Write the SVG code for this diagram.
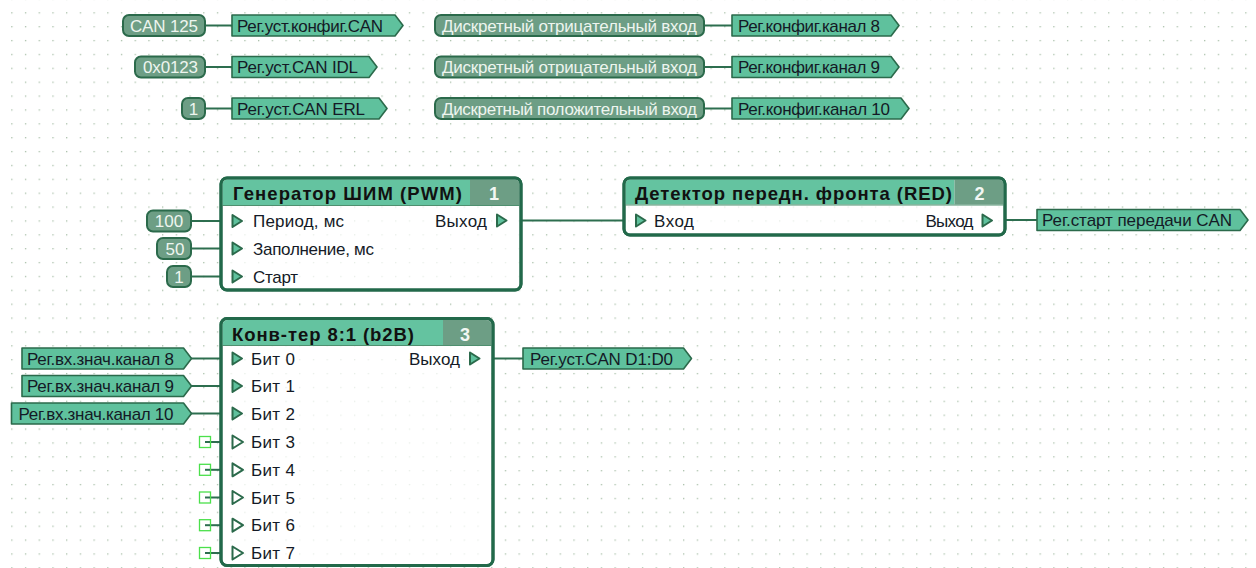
<svg xmlns="http://www.w3.org/2000/svg" width="1256" height="568" viewBox="0 0 1256 568">
  <defs>
    <pattern id="grid" patternUnits="userSpaceOnUse" x="11.2" y="12.2" width="13.711" height="13.875">
      <rect x="0" y="0" width="1.3" height="1.3" fill="#a9c0a9"/>
    </pattern>
    <style>
      .wire { stroke: #2d6e4f; stroke-width: 2; fill: none; }
      .pill { fill: #6d9e85; stroke: #2b6a4b; stroke-width: 2; }
      .pill-t { font-family: "Liberation Sans", Arial, sans-serif; font-size: 17px; fill: #eef5ef; }
      .tag { fill: #5fc19d; stroke: #2b6a4b; stroke-width: 1.6; stroke-linejoin: round; }
      .tag-t { font-family: "Liberation Sans", Arial, sans-serif; font-size: 17px; fill: #141a26; }
      .box { fill: #ffffff; fill-opacity: 0.72; stroke: #22694a; stroke-width: 3; }
      .frame { fill: none; stroke: #22694a; stroke-width: 3; }
      .head { fill: #64c3a0; }
      .num { fill: #6d9e85; }
      .sep { stroke: #4f8f6f; stroke-width: 1; }
      .title { font-family: "Liberation Sans", Arial, sans-serif; font-size: 18.5px; font-weight: bold; fill: #111111; }
      .num-t { font-family: "Liberation Sans", Arial, sans-serif; font-size: 18px; font-weight: bold; fill: #f2f7f3; text-anchor: middle; }
      .row-t { font-family: "Liberation Sans", Arial, sans-serif; font-size: 17px; fill: #141a26; }
      .pin { fill: #5fc19d; stroke: #2b6a4b; stroke-width: 2; stroke-linejoin: round; }
      .pin-free { fill: #ffffff; stroke: #2b6a4b; stroke-width: 2; stroke-linejoin: round; }
      .stub { fill: #ffffff; stroke: #4be04b; stroke-width: 1.3; }
    </style>
  </defs>

  <rect x="0" y="0" width="1256" height="568" fill="#ffffff"/>
  <rect x="0" y="0" width="1256" height="568" fill="url(#grid)"/>

  <!-- wires -->
  <g id="connectors">
    <line class="wire" x1="205" y1="25.5" x2="232" y2="25.5"/>
    <line class="wire" x1="205" y1="67" x2="232" y2="67"/>
    <line class="wire" x1="205" y1="108.5" x2="232" y2="108.5"/>
    <line class="wire" x1="704" y1="25.5" x2="732" y2="25.5"/>
    <line class="wire" x1="704" y1="67" x2="732" y2="67"/>
    <line class="wire" x1="704" y1="108.5" x2="732" y2="108.5"/>
    <line class="wire" x1="191" y1="221" x2="221" y2="221"/>
    <line class="wire" x1="191" y1="248.5" x2="221" y2="248.5"/>
    <line class="wire" x1="191" y1="276.5" x2="221" y2="276.5"/>
    <line class="wire" x1="521" y1="220.5" x2="624" y2="220.5"/>
    <line class="wire" x1="1005" y1="220" x2="1037" y2="220"/>
    <line class="wire" x1="191" y1="358.5" x2="221" y2="358.5"/>
    <line class="wire" x1="191" y1="386" x2="221" y2="386"/>
    <line class="wire" x1="191" y1="413.5" x2="221" y2="413.5"/>
    <line class="wire" x1="493" y1="358.5" x2="523" y2="358.5"/>
    <line class="wire" x1="205" y1="442" x2="221" y2="442"/>
    <line class="wire" x1="205" y1="469.8" x2="221" y2="469.8"/>
    <line class="wire" x1="205" y1="497.5" x2="221" y2="497.5"/>
    <line class="wire" x1="205" y1="525.2" x2="221" y2="525.2"/>
    <line class="wire" x1="205" y1="553" x2="221" y2="553"/>
  </g>

  <!-- constants and register tags, top rows -->
  <g id="const-can125">
    <rect class="pill" x="123" y="15" width="82" height="21" rx="6"/>
    <text class="pill-t" x="130" y="31.5" textLength="68">CAN 125</text>
  </g>
  <g id="tag-cfg-can">
    <path class="tag" d="M232,15 H395 L403,25.5 L395,36 H232 Z"/>
    <text class="tag-t" x="237" y="31.5" textLength="146">Рег.уст.конфиг.CAN</text>
  </g>
  <g id="const-0x0123">
    <rect class="pill" x="135" y="56.5" width="70" height="21" rx="6"/>
    <text class="pill-t" x="143" y="73" textLength="55">0x0123</text>
  </g>
  <g id="tag-can-idl">
    <path class="tag" d="M232,56.5 H369 L377,67 L369,77.5 H232 Z"/>
    <text class="tag-t" x="237" y="73" textLength="121">Рег.уст.CAN IDL</text>
  </g>
  <g id="const-1a">
    <rect class="pill" x="182" y="98" width="23" height="21" rx="6"/>
    <text class="pill-t" x="193.5" y="114.5" text-anchor="middle">1</text>
  </g>
  <g id="tag-can-erl">
    <path class="tag" d="M232,98 H379 L387,108.5 L379,119 H232 Z"/>
    <text class="tag-t" x="237" y="114.5" textLength="128">Рег.уст.CAN ERL</text>
  </g>

  <g id="const-neg8">
    <rect class="pill" x="435" y="15" width="269" height="21" rx="6"/>
    <text class="pill-t" x="442" y="31.5" textLength="255">Дискретный отрицательный вход</text>
  </g>
  <g id="tag-ch8">
    <path class="tag" d="M732,15 H891 L899,25.5 L891,36 H732 Z"/>
    <text class="tag-t" x="738" y="31.5" textLength="142">Рег.конфиг.канал 8</text>
  </g>
  <g id="const-neg9">
    <rect class="pill" x="435" y="56.5" width="269" height="21" rx="6"/>
    <text class="pill-t" x="442" y="73" textLength="255">Дискретный отрицательный вход</text>
  </g>
  <g id="tag-ch9">
    <path class="tag" d="M732,56.5 H891 L899,67 L891,77.5 H732 Z"/>
    <text class="tag-t" x="738" y="73" textLength="142">Рег.конфиг.канал 9</text>
  </g>
  <g id="const-pos10">
    <rect class="pill" x="435" y="98" width="269" height="21" rx="6"/>
    <text class="pill-t" x="442" y="114.5" textLength="255">Дискретный положительный вход</text>
  </g>
  <g id="tag-ch10">
    <path class="tag" d="M732,98 H901 L909,108.5 L901,119 H732 Z"/>
    <text class="tag-t" x="738" y="114.5" textLength="152">Рег.конфиг.канал 10</text>
  </g>

  <!-- block 1: PWM generator -->
  <g id="const-100">
    <rect class="pill" x="147" y="210.5" width="44" height="21" rx="6"/>
    <text class="pill-t" x="169" y="227" text-anchor="middle">100</text>
  </g>
  <g id="const-50">
    <rect class="pill" x="157" y="238" width="34" height="21" rx="6"/>
    <text class="pill-t" x="175" y="254.5" text-anchor="middle">50</text>
  </g>
  <g id="const-1b">
    <rect class="pill" x="167" y="266" width="24" height="21" rx="6"/>
    <text class="pill-t" x="179" y="282.5" text-anchor="middle">1</text>
  </g>
  <g id="block-pwm">
    <rect class="box" x="221" y="178" width="300" height="112" rx="6"/>
    <path class="head" d="M222.5,205 V185 Q222.5,179.5 228,179.5 H470 V205 Z"/>
    <path class="num" d="M470,205 V179.5 H514 Q519.5,179.5 519.5,185 V205 Z"/>
    <line class="sep" x1="222.5" y1="205.5" x2="519.5" y2="205.5"/>
    <rect class="frame" x="221" y="178" width="300" height="112" rx="6"/>
    <text class="title" x="233" y="200" textLength="229">Генератор ШИМ (PWM)</text>
    <text class="num-t" x="494" y="200">1</text>
    <path class="pin" d="M232.5,215 L242,221 L232.5,227 Z"/>
    <text class="row-t" x="253" y="227" textLength="91">Период, мс</text>
    <path class="pin" d="M232.5,242.5 L242,248.5 L232.5,254.5 Z"/>
    <text class="row-t" x="253" y="254.5" textLength="121">Заполнение, мс</text>
    <path class="pin" d="M232.5,270.5 L242,276.5 L232.5,282.5 Z"/>
    <text class="row-t" x="253" y="282.5" textLength="45">Старт</text>
    <text class="row-t" x="487" y="226.5" text-anchor="end" textLength="52">Выход</text>
    <path class="pin" d="M497,214.5 L506.5,220.5 L497,226.5 Z"/>
  </g>

  <!-- block 2: rising edge detector -->
  <g id="block-red">
    <rect class="box" x="624" y="178" width="381" height="57" rx="6"/>
    <path class="head" d="M625.5,204.5 V185 Q625.5,179.5 631,179.5 H954.5 V204.5 Z"/>
    <path class="num" d="M954.5,204.5 V179.5 H998 Q1003.5,179.5 1003.5,185 V204.5 Z"/>
    <line class="sep" x1="625.5" y1="205" x2="1003.5" y2="205"/>
    <rect class="frame" x="624" y="178" width="381" height="57" rx="6"/>
    <text class="title" x="635" y="200" textLength="317">Детектор передн. фронта (RED)</text>
    <text class="num-t" x="979.5" y="200">2</text>
    <path class="pin" d="M636,214.5 L645.5,220.5 L636,226.5 Z"/>
    <text class="row-t" x="654" y="226.5" textLength="40">Вход</text>
    <text class="row-t" x="973.5" y="226.5" text-anchor="end" textLength="48">Выход</text>
    <path class="pin" d="M982.5,214.5 L992,220.5 L982.5,226.5 Z"/>
  </g>
  <g id="tag-tx-start">
    <path class="tag" d="M1037,209.5 H1240 L1248,220 L1240,230.5 H1037 Z"/>
    <text class="tag-t" x="1042" y="226" textLength="190">Рег.старт передачи CAN</text>
  </g>

  <!-- block 3: 8-bit to byte converter -->
  <g id="tag-in8">
    <path class="tag" d="M22,348 H183.5 L191.5,358.5 L183.5,369 H22 Z"/>
    <text class="tag-t" x="27" y="364.5" textLength="147">Рег.вх.знач.канал 8</text>
  </g>
  <g id="tag-in9">
    <path class="tag" d="M22,375.5 H183.5 L191.5,386 L183.5,396.5 H22 Z"/>
    <text class="tag-t" x="27" y="392" textLength="147">Рег.вх.знач.канал 9</text>
  </g>
  <g id="tag-in10">
    <path class="tag" d="M11.5,403 H183.5 L191.5,413.5 L183.5,424 H11.5 Z"/>
    <text class="tag-t" x="18.5" y="419.5" textLength="155">Рег.вх.знач.канал 10</text>
  </g>
  <g id="block-b2b">
    <rect class="box" x="221" y="318.5" width="272" height="247" rx="6"/>
    <path class="head" d="M222.5,345 V325.5 Q222.5,320 228,320 H443 V345 Z"/>
    <path class="num" d="M443,345 V320 H486 Q491.5,320 491.5,325.5 V345 Z"/>
    <line class="sep" x1="222.5" y1="345.5" x2="491.5" y2="345.5"/>
    <rect class="frame" x="221" y="318.5" width="272" height="247" rx="6"/>
    <text class="title" x="232" y="340.5" textLength="182">Конв-тер 8:1 (b2B)</text>
    <text class="num-t" x="465" y="340.5">3</text>
    <path class="pin" d="M232.5,352.5 L242,358.5 L232.5,364.5 Z"/>
    <text class="row-t" x="251" y="364.5" textLength="44">Бит 0</text>
    <path class="pin" d="M232.5,380 L242,386 L232.5,392 Z"/>
    <text class="row-t" x="251" y="392" textLength="44">Бит 1</text>
    <path class="pin" d="M232.5,407.5 L242,413.5 L232.5,419.5 Z"/>
    <text class="row-t" x="251" y="419.5" textLength="44">Бит 2</text>
    <path class="pin-free" d="M232.5,435.5 L243,442 L232.5,448.5 Z"/>
    <text class="row-t" x="251" y="448" textLength="44">Бит 3</text>
    <path class="pin-free" d="M232.5,463.3 L243,469.8 L232.5,476.3 Z"/>
    <text class="row-t" x="251" y="475.8" textLength="44">Бит 4</text>
    <path class="pin-free" d="M232.5,491 L243,497.5 L232.5,504 Z"/>
    <text class="row-t" x="251" y="503.5" textLength="44">Бит 5</text>
    <path class="pin-free" d="M232.5,518.7 L243,525.2 L232.5,531.7 Z"/>
    <text class="row-t" x="251" y="531.2" textLength="44">Бит 6</text>
    <path class="pin-free" d="M232.5,546.5 L243,553 L232.5,559.5 Z"/>
    <text class="row-t" x="251" y="559" textLength="44">Бит 7</text>
    <text class="row-t" x="460" y="364.5" text-anchor="end" textLength="51">Выход</text>
    <path class="pin" d="M470,352.5 L479.5,358.5 L470,364.5 Z"/>
  </g>
  <g id="stubs-free-inputs">
    <rect class="stub" x="199.5" y="436.5" width="11" height="11"/>
    <rect class="stub" x="199.5" y="464.3" width="11" height="11"/>
    <rect class="stub" x="199.5" y="492" width="11" height="11"/>
    <rect class="stub" x="199.5" y="519.7" width="11" height="11"/>
    <rect class="stub" x="199.5" y="547.5" width="11" height="11"/>
    <line class="wire" x1="205" y1="442" x2="210" y2="442"/>
    <line class="wire" x1="205" y1="469.8" x2="210" y2="469.8"/>
    <line class="wire" x1="205" y1="497.5" x2="210" y2="497.5"/>
    <line class="wire" x1="205" y1="525.2" x2="210" y2="525.2"/>
    <line class="wire" x1="205" y1="553" x2="210" y2="553"/>
  </g>
  <g id="tag-can-data">
    <path class="tag" d="M523,348 H683.5 L691.5,358.5 L683.5,369 H523 Z"/>
    <text class="tag-t" x="530" y="364.5" textLength="143">Рег.уст.CAN D1:D0</text>
  </g>
</svg>
